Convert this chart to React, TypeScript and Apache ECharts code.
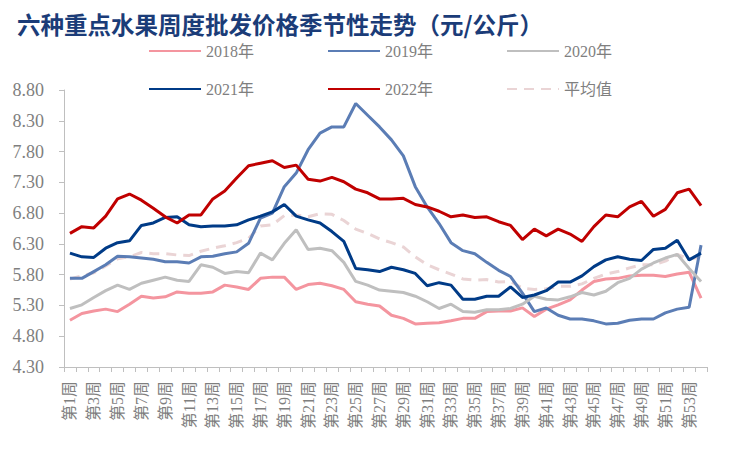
import React, { useEffect, useRef } from "react";
import * as echarts from "echarts";

const weeks: string[] = Array.from({ length: 54 }, (_, i) => `第${i + 1}周`);

const y2018 = [5.06, 5.17, 5.21, 5.24, 5.20, 5.32, 5.45, 5.42, 5.44, 5.52, 5.50, 5.50, 5.52, 5.63, 5.60, 5.56, 5.74, 5.76, 5.76, 5.56, 5.64, 5.66, 5.62, 5.56, 5.36, 5.32, 5.29, 5.14, 5.09, 5.00, 5.01, 5.02, 5.05, 5.09, 5.09, 5.20, 5.21, 5.21, 5.26, 5.12, 5.24, 5.31, 5.39, 5.55, 5.69, 5.73, 5.74, 5.78, 5.79, 5.79, 5.77, 5.81, 5.84, 5.42];
const y2019 = [5.74, 5.74, 5.85, 5.96, 6.10, 6.09, 6.07, 6.05, 6.01, 6.01, 5.99, 6.09, 6.10, 6.14, 6.17, 6.31, 6.72, 6.80, 7.23, 7.45, 7.83, 8.10, 8.20, 8.20, 8.58, 8.39, 8.20, 7.99, 7.73, 7.23, 6.90, 6.63, 6.32, 6.19, 6.14, 6.00, 5.87, 5.77, 5.50, 5.20, 5.26, 5.14, 5.08, 5.08, 5.05, 5.00, 5.01, 5.06, 5.08, 5.08, 5.18, 5.24, 5.27, 6.28];
const y2020 = [5.25, 5.31, 5.43, 5.54, 5.63, 5.56, 5.66, 5.71, 5.76, 5.71, 5.69, 5.96, 5.92, 5.82, 5.85, 5.83, 6.15, 6.04, 6.31, 6.53, 6.21, 6.23, 6.19, 6.00, 5.69, 5.63, 5.55, 5.53, 5.51, 5.45, 5.36, 5.25, 5.32, 5.20, 5.19, 5.23, 5.23, 5.25, 5.32, 5.45, 5.40, 5.39, 5.44, 5.51, 5.47, 5.53, 5.67, 5.74, 5.89, 5.99, 6.07, 6.13, 5.90, 5.69];
const y2021 = [6.15, 6.09, 6.08, 6.23, 6.32, 6.35, 6.60, 6.64, 6.73, 6.74, 6.61, 6.58, 6.59, 6.59, 6.61, 6.69, 6.75, 6.82, 6.94, 6.75, 6.69, 6.64, 6.50, 6.34, 5.90, 5.88, 5.85, 5.92, 5.88, 5.82, 5.62, 5.67, 5.63, 5.40, 5.40, 5.45, 5.45, 5.60, 5.43, 5.47, 5.54, 5.68, 5.68, 5.78, 5.93, 6.04, 6.09, 6.05, 6.03, 6.21, 6.23, 6.36, 6.04, 6.15];
const y2022 = [6.47, 6.58, 6.56, 6.75, 7.03, 7.11, 7.01, 6.88, 6.74, 6.64, 6.77, 6.77, 7.03, 7.16, 7.37, 7.57, 7.61, 7.65, 7.54, 7.58, 7.35, 7.32, 7.38, 7.31, 7.19, 7.13, 7.03, 7.03, 7.04, 6.94, 6.90, 6.83, 6.74, 6.77, 6.73, 6.74, 6.66, 6.60, 6.37, 6.54, 6.43, 6.54, 6.46, 6.34, 6.58, 6.77, 6.74, 6.90, 6.99, 6.75, 6.86, 7.13, 7.19, 6.92];
const avgVals = [5.73, 5.78, 5.83, 5.94, 6.06, 6.09, 6.16, 6.14, 6.14, 6.12, 6.11, 6.18, 6.23, 6.27, 6.32, 6.39, 6.59, 6.61, 6.76, 6.77, 6.74, 6.79, 6.78, 6.68, 6.54, 6.47, 6.38, 6.32, 6.25, 6.09, 5.96, 5.88, 5.81, 5.73, 5.71, 5.72, 5.68, 5.69, 5.58, 5.56, 5.57, 5.61, 5.61, 5.65, 5.74, 5.81, 5.85, 5.91, 5.96, 5.96, 6.02, 6.13, 6.05, 6.09];

const seriesNames = ["2018年", "2019年", "2020年", "2021年", "2022年", "平均值"];
const seriesColors = ["#F4959F", "#5B7DB5", "#BFBFBF", "#003B87", "#C00000", "#EAD4D5"];

const SERIF = "'Liberation Serif', 'Times New Roman', 'Noto Sans CJK SC', serif";

export default function App() {
  const ref = useRef<HTMLDivElement>(null);
  useEffect(() => {
    if (!ref.current) return;
    const chart = echarts.init(ref.current, undefined, { renderer: "svg" });
    const dataSets = [y2018, y2019, y2020, y2021, y2022, avgVals];
    const legendCommon = {
      orient: "horizontal" as const,
      itemWidth: 52,
      itemHeight: 14,
      itemGap: 73,
      itemStyle: { opacity: 0 },
      textStyle: { color: "#7F7F7F", fontSize: 16, fontFamily: SERIF },
    };
    chart.setOption({
      animation: false,
      backgroundColor: "#ffffff",
      title: {
        text: "六种重点水果周度批发价格季节性走势（元/公斤）",
        left: 12,
        top: 7,
        textStyle: {
          color: "#1B3C78",
          fontSize: 23.5,
          fontWeight: "bold",
          fontFamily: "'Noto Sans CJK SC', sans-serif",
        },
      },
      legend: [
        { ...legendCommon, left: 143, top: 38, data: seriesNames.slice(0, 3) },
        { ...legendCommon, left: 143, top: 76, data: seriesNames.slice(3, 6) },
      ],
      grid: { left: 64, right: 42, top: 90, bottom: 84 },
      xAxis: {
        type: "category",
        data: weeks,
        boundaryGap: true,
        axisLine: { show: true, lineStyle: { color: "#BFBFBF", width: 1 } },
        axisTick: { show: true, interval: 0, length: 5, lineStyle: { color: "#BFBFBF" } },
        axisLabel: {
          interval: 1,
          rotate: 90,
          margin: 14,
          color: "#7F7F7F",
          fontSize: 16,
          fontFamily: SERIF,
        },
        splitLine: { show: false },
      },
      yAxis: {
        type: "value",
        min: 4.3,
        max: 8.8,
        interval: 0.5,
        axisLine: { show: true, lineStyle: { color: "#BFBFBF", width: 1 } },
        axisTick: { show: true, length: 5, lineStyle: { color: "#BFBFBF" } },
        axisLabel: {
          margin: 20,
          color: "#7F7F7F",
          fontSize: 18,
          fontFamily: SERIF,
          formatter: (v: number) => v.toFixed(2),
        },
        splitLine: { show: false },
      },
      series: seriesNames.map((name, i) => ({
        name,
        type: "line",
        data: dataSets[i],
        symbol: "none",
        smooth: false,
        z: i === 5 ? 1 : 2 + i,
        lineStyle: {
          color: seriesColors[i],
          width: 3,
          type: i === 5 ? [10, 7] : "solid",
        },
        itemStyle: { color: seriesColors[i] },
      })),
    });
    return () => chart.dispose();
  }, []);
  return (
    <div
      ref={ref}
      style={{ position: "fixed", left: 0, top: 0, width: 749, height: 451, background: "#fff" }}
    />
  );
}
